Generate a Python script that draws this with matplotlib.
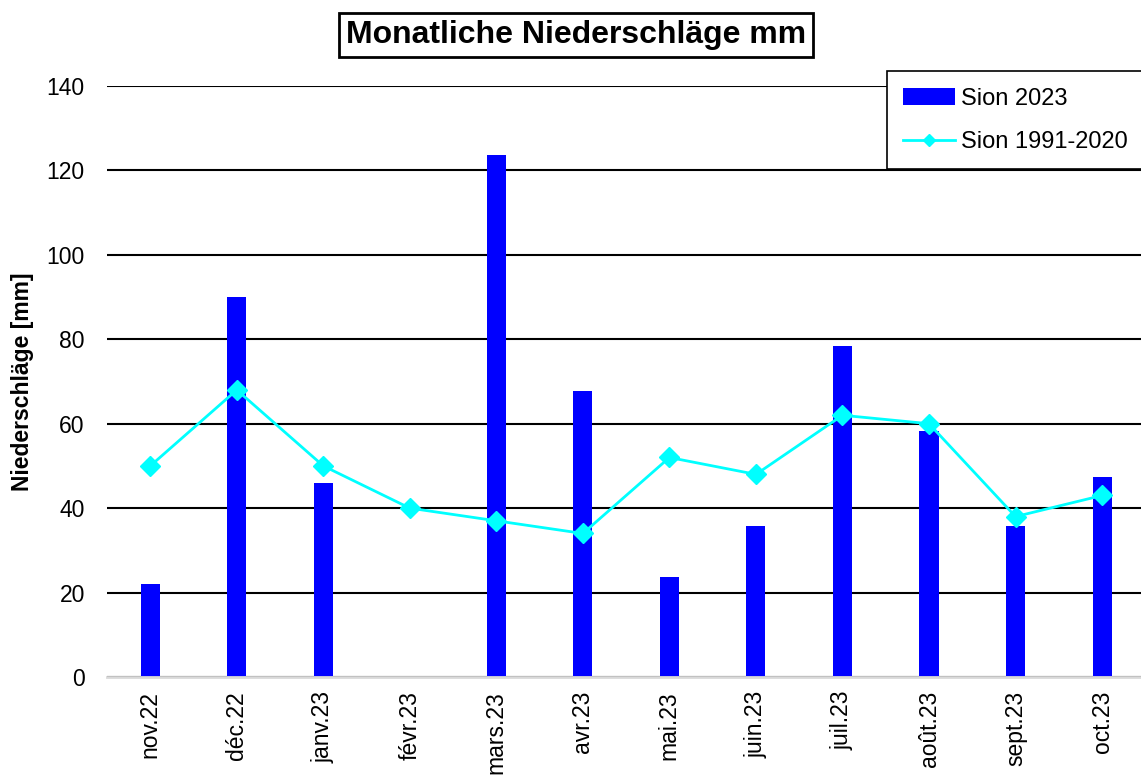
import matplotlib.pyplot as plt
import numpy as np

plt.rcParams['font.family'] = ['Liberation Sans', 'DejaVu Sans']

months = ['nov.22', 'déc.22', 'janv.23', 'févr.23', 'mars.23', 'avr.23',
          'mai.23', 'juin.23', 'juil.23', 'août.23', 'sept.23', 'oct.23']
sion_2023 = [22.0, 90.0, 46.0, 0.0, 123.7, 67.8, 23.7, 35.8, 78.4, 58.3, 35.8, 47.4]
sion_norm = [50, 68, 50, 40, 37, 34, 52, 48, 62, 60, 38, 43]
y_ticks = [0, 20, 40, 60, 80, 100, 120, 140]

fig = plt.figure(figsize=(11.41, 7.77), dpi=100)
ax = fig.add_axes([107 / 1141, 1 - 677 / 777, 1 - 107 / 1141, (677 - 86) / 777])

x = np.arange(len(months))
bars = ax.bar(x, sion_2023, width=0.22, color='#0000ff', label='Sion 2023', zorder=2)
line, = ax.plot(x, sion_norm, color='#00ffff', lw=2, marker='D', markersize=10,
                label='Sion 1991-2020', zorder=3)

ax.set_ylim(0, 140)
ax.set_xlim(-0.5, 11.45)
ax.set_yticks(y_ticks)
ax.set_xticks(x)
ax.set_xticklabels(months, rotation=90, fontsize=16.5)
ax.tick_params(axis='y', labelsize=16.5, length=0, pad=16)
ax.tick_params(axis='x', length=0, pad=10)
ax.grid(axis='y', color='black', lw=1.5, zorder=1)
ax.set_axisbelow(True)
for s in ['top', 'right', 'left']:
    ax.spines[s].set_visible(False)
ax.spines['bottom'].set_color('#d9d9d9')
ax.spines['bottom'].set_linewidth(2)
ax.spines['bottom'].set_zorder(4)

ax.set_ylabel('Niederschläge [mm]', fontsize=16.5, fontweight='bold', labelpad=9)

fig.text(576 / 1141, 1 - 35 / 777, 'Monatliche Niederschläge mm', ha='center', va='center',
         fontsize=23, fontweight='bold',
         bbox=dict(boxstyle='square,pad=0.22', fc='white', ec='black', lw=2))

leg = ax.legend([bars, line], ['Sion 2023', 'Sion 1991-2020'],
                loc='upper right', bbox_to_anchor=(1.003, 1 - 71 / 777),
                bbox_transform=fig.transFigure, borderaxespad=0,
                fontsize=17, frameon=True, fancybox=False, edgecolor='black',
                framealpha=1, borderpad=0.7, labelspacing=0.9, handlelength=2.2,
                handletextpad=0.25, markerscale=0.6)
leg.get_frame().set_linewidth(1.2)

fig.savefig('out.png', dpi=100)
